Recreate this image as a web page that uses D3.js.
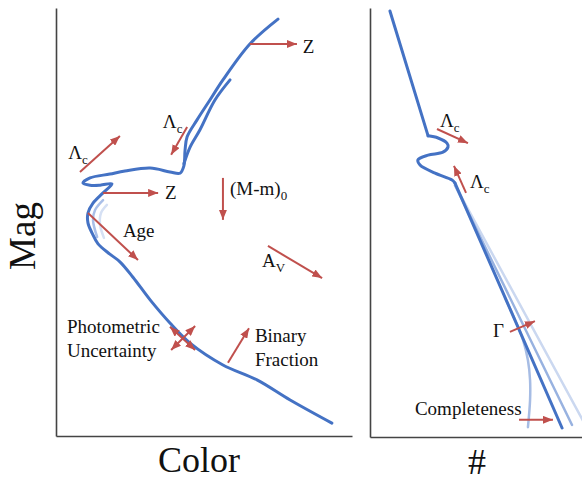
<!DOCTYPE html>
<html>
<head>
<meta charset="utf-8">
<script src="https://cdn.jsdelivr.net/npm/d3@7"></script>
<style>
  body { margin: 0; background: #fff; }
  text { font-family: "Liberation Serif", "DejaVu Serif", serif; fill: #111; }
</style>
</head>
<body>
<script>
// schematic units: both panels run 0..100 across and 0..100 down (mag grows downward)

// CMD panel: isochrone traced from bottom of main sequence up to tip of the giant branch
var isochrone = [
  [93.2,97.0],[79.1,91.6],[67.9,86.9],[56.4,83.4],[45.3,78.3],[38.5,73.6],[31.8,68.2],
  [26.0,62.9],[21.6,59.3],[18.2,57.5],[14.2,55.1],[12.2,52.6],[10.8,50.2],[10.8,47.9],
  [12.5,45.6],[15.9,43.2],[18.9,41.1],[14.9,41.4],[11.5,41.4],[9.1,40.9],[11.5,39.7],
  [18.2,38.8],[23.3,38.1],[31.8,37.4],[38.5,38.3],[41.9,38.6],[43.2,36.9],[43.6,33.2],
  [44.3,30.1],[47.6,26.2],[52.0,21.5],[56.4,16.8],[65.5,8.4],[75.0,2.6]
];
var secondBranch = [[43.2,36.4],[45.3,32.5],[48.6,28.5],[53.7,21.5],[58.8,16.8]];
var ghostTurnoff1 = [[15.9,44.9],[13.2,47.2],[12.5,49.5],[13.9,53.5]];
var ghostTurnoff2 = [[17.2,46.0],[15.2,47.9],[14.9,50.7],[16.2,53.7]];

// CMD arrows [x1, y1, x2, y2, doubleHeaded]
var cmdArrows = [
  [65.5,8.4,81.4,8.4,false],
  [8.1,38.3,21.6,29.9,false],
  [44.3,27.8,38.9,34.3,false],
  [15.9,43.2,34.5,43.2,false],
  [56.4,39.7,56.4,49.5,false],
  [10.8,47.9,27.7,58.9,false],
  [71.6,55.6,89.9,63.1,false],
  [38.5,74.5,47.0,79.9,true],
  [47.0,74.3,38.9,79.9,true],
  [58.1,82.9,65.2,74.8,false]
];
// CMD labels [x, y, text, subscript]
var cmdLabels = [
  [83.4,10.5,"Z",""],
  [4.1,35.3,"\u039B","c"],
  [36.1,28.0,"\u039B","c"],
  [36.8,44.6,"Z",""],
  [58.8,43.7,"(M-m)","0"],
  [22.6,53.5,"Age",""],
  [69.6,60.5,"A","V"],
  [3.7,75.9,"Photometric",""],
  [3.7,81.5,"Uncertainty",""],
  [67.2,78.0,"Binary",""],
  [67.2,83.6,"Fraction",""]
];

// luminosity function panel
var lfTop = [[9.4,0.7],[27.4,29.8]];
var lfWiggle = [[27.4,29.8],[32.1,30.3],[36.3,31.5],[36.8,32.4],[34.4,33.6],[27.4,34.3],
  [22.6,35.4],[23.6,36.6],[30.7,38.5],[38.7,40.1],[40.1,40.8]];
var lfBottom = [[40.1,40.8],[90.6,97.9]];
var lfSteeper = [[40.1,41.3],[95.3,97.2]];
var lfSteepest = [[40.1,41.3],[100.8,96.5]];
var lfIncomplete = [[63.7,67.6],[68.4,72.7],[72.2,77.4],[74.5,82.1],[75.5,86.7],[75.5,91.4],[74.5,97.7]];

var lfArrows = [
  [31.6,28.2,46.2,31.5,false],
  [45.3,43.1,39.6,36.8,false],
  [66.0,75.5,77.8,73.0,false],
  [70.3,96.0,86.3,96.0,false]
];
var lfLabels = [
  [33.0,27.7,"\u039B","c"],
  [47.2,42.0,"\u039B","c"],
  [58.0,76.7,"\u0393",""],
  [21.2,94.9,"Completeness",""]
];

var w = 582, h = 485;
var blue = "#4472c4", red = "#c0504d";

var svg = d3.select("body").append("svg")
  .attr("width", w)
  .attr("height", h);

var defs = svg.append("defs");
defs.append("marker")
  .attr("id", "head")
  .attr("markerUnits", "userSpaceOnUse")
  .attr("viewBox", "0 0 10 8")
  .attr("markerWidth", 10)
  .attr("markerHeight", 8)
  .attr("refX", 10)
  .attr("refY", 4)
  .attr("orient", "auto-start-reverse")
  .append("path")
  .attr("d", "M0,0 L10,4 L0,8 Z")
  .style("fill", red);

defs.append("clipPath").attr("id", "lfclip")
  .append("rect").attr("x", 370).attr("y", 0).attr("width", 212).attr("height", 437);

// scales
var xCmd = d3.scaleLinear().domain([0, 100]).range([56, 352]);
var yCmd = d3.scaleLinear().domain([0, 100]).range([8, 436]);
var xLf = d3.scaleLinear().domain([0, 100]).range([370, 582]);
var yLf = d3.scaleLinear().domain([0, 100]).range([8, 437]);

// axes: bare lines, no ticks
function bareAxis(g){
  g.selectAll(".domain").attr("stroke", "#444").attr("stroke-width", 1.6);
}
svg.append("g").attr("transform", "translate(56,0)")
  .call(d3.axisLeft(yCmd).tickValues([]).tickSizeOuter(0)).call(bareAxis);
svg.append("g").attr("transform", "translate(0,436)")
  .call(d3.axisBottom(xCmd).tickValues([]).tickSizeOuter(0)).call(bareAxis);
svg.append("g").attr("transform", "translate(370,0)")
  .call(d3.axisLeft(yLf).tickValues([]).tickSizeOuter(0)).call(bareAxis);
svg.append("g").attr("transform", "translate(0,437)")
  .call(d3.axisBottom(xLf).tickValues([]).tickSizeOuter(0)).call(bareAxis);

// axis titles
svg.append("text")
  .attr("transform", "translate(35,236) rotate(-90)")
  .attr("text-anchor", "middle")
  .style("font-size", "37px")
  .text("Mag");
svg.append("text")
  .attr("x", 199).attr("y", 472)
  .attr("text-anchor", "middle")
  .style("font-size", "36px")
  .text("Color");
svg.append("text")
  .attr("x", 477).attr("y", 474)
  .attr("text-anchor", "middle")
  .style("font-size", "36px")
  .text("#");

function curve(x, y, pts, color, width, kind, clip){
  var line = d3.line()
    .x(function(d){ return x(d[0]); })
    .y(function(d){ return y(d[1]); })
    .curve(kind || d3.curveLinear);
  var p = svg.append("path")
    .datum(pts)
    .attr("d", line)
    .style("fill", "none")
    .style("stroke", color)
    .style("stroke-width", width)
    .style("stroke-linecap", "round")
    .style("stroke-linejoin", "round");
  if (clip) p.attr("clip-path", "url(#lfclip)");
  return p;
}

var smooth = d3.curveCatmullRom.alpha(0.5);

// CMD curves
curve(xCmd, yCmd, ghostTurnoff2, "#d5e0f4", 2.5, smooth);
curve(xCmd, yCmd, ghostTurnoff1, "#a9bfe8", 2.5, smooth);
curve(xCmd, yCmd, isochrone, blue, 3, smooth);
curve(xCmd, yCmd, secondBranch, blue, 3, smooth);

// LF curves
curve(xLf, yLf, lfSteepest, "#cbd8f0", 2.5, null, true);
curve(xLf, yLf, lfSteeper, "#98b2e0", 2.5, null, true);
curve(xLf, yLf, lfIncomplete, "#a6bce4", 2.5, smooth, true);
curve(xLf, yLf, lfTop, blue, 3);
curve(xLf, yLf, lfWiggle, blue, 3, smooth);
curve(xLf, yLf, lfBottom, blue, 3);

// arrows and labels
function arrows(x, y, data){
  svg.selectAll(null)
    .data(data)
    .enter()
    .append("line")
    .attr("x1", function(d){ return x(d[0]); })
    .attr("y1", function(d){ return y(d[1]); })
    .attr("x2", function(d){ return x(d[2]); })
    .attr("y2", function(d){ return y(d[3]); })
    .style("stroke", red)
    .style("stroke-width", 2)
    .attr("marker-end", "url(#head)")
    .attr("marker-start", function(d){ return d[4] ? "url(#head)" : null; });
}
function labels(x, y, data){
  var t = svg.selectAll(null)
    .data(data)
    .enter()
    .append("text")
    .attr("x", function(d){ return x(d[0]); })
    .attr("y", function(d){ return y(d[1]); })
    .style("font-size", "19px");
  t.append("tspan").text(function(d){ return d[2]; });
  t.append("tspan")
    .attr("dy", 5)
    .style("font-size", "13px")
    .text(function(d){ return d[3]; });
}
arrows(xCmd, yCmd, cmdArrows);
labels(xCmd, yCmd, cmdLabels);
arrows(xLf, yLf, lfArrows);
labels(xLf, yLf, lfLabels);
</script>
</body>
</html>
